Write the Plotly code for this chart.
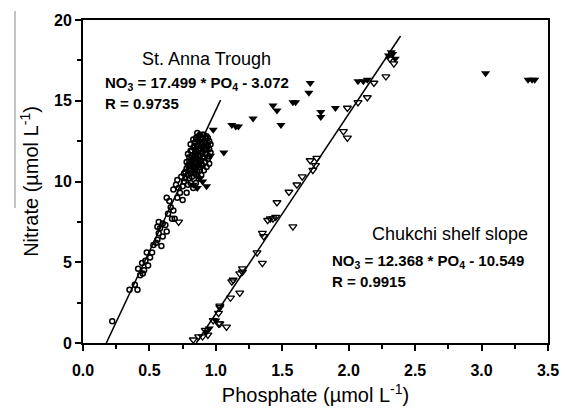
import plotly.graph_objects as go

# St. Anna Trough (open circles)
anna_po4 = [0.22,0.35,0.39,0.41,0.415,0.445,0.45,0.47,0.49,0.505,0.48,0.52,0.46,0.43,
            0.53,0.56,0.57,0.58,0.60,0.60,0.63,0.56,0.57,0.62,0.55,0.59,
            0.64,0.66,0.67,0.69,0.63,0.65,0.68,
            0.68,0.71,0.73,0.75,0.78,0.71,0.75,0.70,0.72,0.74,0.76,0.79,
            0.77,0.79,0.80,0.81,0.82,0.83,0.84,0.85,0.86,0.87,0.88,0.89,0.90,0.91,0.92,0.93,0.94,0.95,
            0.78,0.80,0.81,0.83,0.84,0.85,0.86,0.87,0.88,0.89,0.90,0.91,0.92,0.93,0.94,
            0.79,0.82,0.84,0.86,0.88,0.90,0.87,0.85,0.83,0.81,0.80,0.82,0.84,0.86,0.88,0.90,0.92,0.94,0.96,
            0.89,0.91,0.93,0.95,0.85,0.87,0.83,0.81,0.77,0.96,0.95,0.93,0.89,0.86,0.90,0.92,
            0.80,0.82,0.84,0.86,0.88,0.83,0.85,0.87,0.89,0.91,0.79,0.81,
            0.82,0.84,0.86,0.88,0.90,0.92,0.85,0.87,0.89,0.91,0.83,0.81,0.80,0.78,0.76,0.84,0.86,0.88,0.93,0.95]
anna_no3 = [1.35,3.3,3.6,3.3,4.6,4.95,4.3,5.1,4.8,5.3,5.6,5.6,4.5,4.2,
            6.07,6.4,6.8,7.1,6.6,7.4,6.9,7.2,7.5,7.3,6.2,6.0,
            8.0,8.4,7.7,7.7,9.0,8.8,8.2,
            9.5,10.1,9.3,9.7,9.3,9.0,8.85,9.8,9.6,10.3,10.0,9.8,
            10.6,10.4,10.8,10.5,11.0,10.7,11.2,10.9,11.4,11.1,11.6,11.3,11.8,11.5,12.0,11.7,12.2,12.5,
            11.2,11.5,11.9,12.1,12.4,12.7,12.2,12.5,12.9,12.3,12.6,12.9,12.4,12.8,12.7,
            11.7,11.6,11.7,11.8,12.0,12.1,12.8,12.0,11.4,11.1,10.2,10.3,10.5,10.6,10.9,11.0,11.2,11.4,11.8,
            10.4,10.7,10.9,11.1,9.9,10.2,9.6,9.9,10.2,12.3,12.0,12.3,12.7,13.0,12.9,12.7,
            11.3,11.9,12.2,12.6,12.4,12.6,11.6,11.9,11.8,12.2,11.0,12.3,
            11.25,11.45,11.0,11.25,11.5,11.7,11.15,11.35,11.05,11.95,10.9,10.7,11.0,10.8,10.5,10.8,10.4,10.7,12.05,11.55]

# Filled triangles
mix_po4 = [0.98,1.06,0.96,0.88,0.90,0.93,0.83,0.86,
           1.12,1.15,1.17,1.28,1.43,1.46,1.49,1.58,1.60,1.71,1.70,1.79,1.79,1.90,
           2.07,2.11,2.14,2.30,2.33,2.35,2.32,3.03,3.35,3.38,3.40,
           0.93,0.95,1.00]
mix_no3 = [13.2,11.8,11.6,10.2,10.0,9.7,9.8,9.6,
           13.5,13.4,13.4,13.9,14.7,14.4,13.5,14.9,14.9,16.1,15.5,14.3,14.0,14.55,
           16.2,16.2,16.3,17.8,17.9,17.6,18.0,16.7,16.3,16.3,16.3,
           0.7,0.9,1.4]

# Chukchi shelf slope (open triangles)
chuk_po4 = [0.83,0.87,0.90,0.92,0.94,0.98,1.02,1.03,1.08,1.02,1.03,1.03,1.11,1.18,1.12,1.13,
            1.18,1.20,1.20,1.35,1.31,1.35,1.36,1.39,1.41,1.43,1.45,1.58,1.46,1.55,1.61,1.65,
            1.73,1.71,1.76,1.75,1.96,1.99,1.99,2.07,2.14,2.19,2.28,2.31,2.34,0.72]
chuk_no3 = [0.2,0.4,0.4,0.8,0.5,1.4,1.2,1.2,1.0,1.85,2.2,2.3,2.8,3.1,3.8,3.9,
            4.3,4.4,4.6,4.95,5.6,6.8,6.6,7.6,7.7,7.7,7.8,7.2,8.7,9.35,9.8,10.3,
            10.7,11.3,11.45,11.0,13.1,12.7,14.55,14.9,15.2,16.1,16.5,17.6,17.3,7.5]

# Regression lines
anna_slope, anna_int = 17.499, -3.072
chuk_slope, chuk_int = 12.368, -10.549
anna_line_x = [-anna_int / anna_slope, 1.035]
chuk_line_x = [-chuk_int / chuk_slope, 2.39]

x_ticks = [0.0, 0.5, 1.0, 1.5, 2.0, 2.5, 3.0, 3.5]
y_ticks = [0, 5, 10, 15, 20]

fig = go.Figure()
fig.add_trace(go.Scatter(x=anna_line_x, y=[anna_slope * v + anna_int for v in anna_line_x],
                         mode="lines", line=dict(color="black", width=1.5), showlegend=False))
fig.add_trace(go.Scatter(x=chuk_line_x, y=[chuk_slope * v + chuk_int for v in chuk_line_x],
                         mode="lines", line=dict(color="black", width=1.5), showlegend=False))
fig.add_trace(go.Scatter(x=anna_po4, y=anna_no3, mode="markers",
                         marker=dict(symbol="circle-open", size=5, color="black", line=dict(width=1.5)),
                         showlegend=False))
fig.add_trace(go.Scatter(x=chuk_po4, y=chuk_no3, mode="markers",
                         marker=dict(symbol="triangle-down-open", size=7, color="black", line=dict(width=1.3)),
                         showlegend=False))
fig.add_trace(go.Scatter(x=mix_po4, y=mix_no3, mode="markers",
                         marker=dict(symbol="triangle-down", size=8, color="black"),
                         showlegend=False))

font_family = "Liberation Sans, Arial, sans-serif"
axis_common = dict(showgrid=False, zeroline=False, showline=True, linecolor="black", linewidth=2,
                   mirror=True, ticks="outside", ticklen=6, tickwidth=2, tickcolor="black",
                   automargin=False,
                   tickfont=dict(family=font_family, size=16, color="black", weight="bold"))

fig.update_xaxes(range=[0, 3.5], tickvals=x_ticks, ticktext=[f"{v:.1f}" for v in x_ticks],
                 ticklabelstandoff=6,
                 minor=dict(dtick=0.25, ticks="outside", ticklen=4, tickwidth=1.5, tickcolor="black"),
                 title=dict(text="Phosphate (µmol L<sup>-1</sup>)", font=dict(family=font_family, size=20, color="black"),
                            standoff=10),
                 **axis_common)
fig.update_yaxes(range=[0, 20], tickvals=y_ticks, ticktext=[str(v) for v in y_ticks],
                 minor=dict(dtick=2.5, ticks="outside", ticklen=4, tickwidth=1.5, tickcolor="black"),
                 title=dict(text="Nitrate (µmol L<sup>-1</sup>)", font=dict(family=font_family, size=20, color="black"),
                            standoff=10),
                 **axis_common)

eq_font = dict(family=font_family, size=15, color="black", weight="bold")
head_font = dict(family=font_family, size=18, color="black")
annotations = [
    dict(x=140, y=59, text="St. Anna Trough", font=head_font),
    dict(x=103, y=83, text="NO<sub>3</sub> = 17.499 * PO<sub>4</sub> - 3.072", font=eq_font),
    dict(x=103, y=103, text="R = 0.9735", font=eq_font),
    dict(x=370, y=234, text="Chukchi shelf slope", font=head_font),
    dict(x=330, y=261, text="NO<sub>3</sub> = 12.368 * PO<sub>4</sub> - 10.549", font=eq_font),
    dict(x=330, y=281, text="R = 0.9915", font=eq_font),
]
W, H = 565, 408
L, R, T, B = 83, 17, 20, 65
for a in annotations:
    fig.add_annotation(x=(a["x"] - L) / (W - L - R), y=1 - (a["y"] - T) / (H - T - B),
                       xref="paper", yref="paper", text=a["text"], font=a["font"],
                       showarrow=False, xanchor="left", yanchor="middle")

# scan artifact line on the left
fig.add_shape(type="line", xref="paper", yref="paper",
              x0=(15 - L) / (W - L - R), x1=(15 - L) / (W - L - R),
              y0=1 - (11 - T) / (H - T - B), y1=1 - (208 - T) / (H - T - B),
              line=dict(color="#888888", width=1))

fig.update_layout(width=W, height=H, margin=dict(l=L, r=R, t=T, b=B),
                  plot_bgcolor="white", paper_bgcolor="white")
fig.write_html("out.html")
